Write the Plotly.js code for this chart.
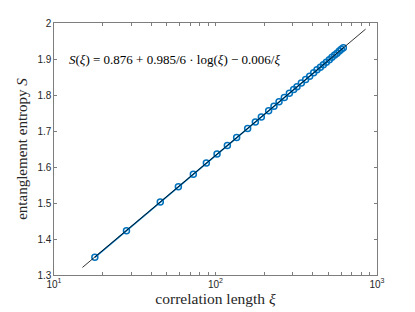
<!DOCTYPE html>
<html>
<head>
<meta charset="utf-8">
<script src="https://cdn.plot.ly/plotly-3.0.1.min.js"></script>
<style>html,body{margin:0;padding:0;background:#fff;}#chart{width:415px;height:312px;}</style>
</head>
<body>
<div id="chart"></div>
<script>
// correlation length ξ (data points)
const xi = [17.9, 28.1, 45.5, 58.9, 72.9, 87.8, 102.2, 118.4, 135.2, 158.2, 176.5, 192.2,
            213.4, 230.2, 247.4, 266.8, 286.6, 304.8, 319.6, 340.0, 361.6, 382.9, 405.3,
            425.0, 445.8, 465.3, 485.6, 506.8, 526.4, 547.0, 565.4, 584.5, 601.5, 618.8];
// entanglement entropy S (data points)
const S = [1.349, 1.423, 1.503, 1.545, 1.580, 1.611, 1.636, 1.660, 1.682, 1.707, 1.725, 1.739,
           1.756, 1.769, 1.781, 1.793, 1.805, 1.815, 1.823, 1.833, 1.843, 1.852, 1.862,
           1.870, 1.877, 1.884, 1.891, 1.898, 1.905, 1.911, 1.916, 1.922, 1.927, 1.931];
// fit line endpoints
const fitX = [15, 850];
const fitS = [1.321, 1.983];
// tick values/labels
const xTickVals = [10,20,30,40,50,60,70,80,90,100,200,300,400,500,600,700,800,900,1000];
const xTickText = xTickVals.map(v => v===10 ? '10<sup>1</sup>' : v===100 ? '10<sup>2</sup>' : v===1000 ? '10<sup>3</sup>' : '');
const yTickVals = [1.3,1.4,1.5,1.6,1.7,1.8,1.9,2];
const yTickText = ['1.3','1.4','1.5','1.6','1.7','1.8','1.9','2'];

const data = [
  {x: xi, y: S, type: 'scatter', mode: 'lines+markers',
   line: {color: '#0072BD', width: 1.5},
   marker: {symbol: 'circle-open', size: 6, color: '#0072BD', line: {width: 1.5, color: '#0072BD'}},
   hoverinfo: 'skip'},
  {x: fitX, y: fitS, type: 'scatter', mode: 'lines',
   line: {color: '#000000', width: 0.8}, hoverinfo: 'skip'}
];

const axisCommon = {
  showgrid: false, zeroline: false, showline: true, linecolor: '#262626', linewidth: 0.6,
  mirror: 'ticks', ticks: 'inside', ticklen: 3, tickcolor: '#262626', tickwidth: 0.6,
  tickfont: {family: 'Liberation Sans, Arial, sans-serif', size: 10, color: '#262626'}
};

const layout = {
  width: 415, height: 312,
  margin: {l: 54, r: 38, t: 23, b: 37},
  paper_bgcolor: '#ffffff', plot_bgcolor: '#ffffff',
  showlegend: false,
  xaxis: Object.assign({}, axisCommon, {
    type: 'log', range: [1, 3], tickmode: 'array', tickvals: xTickVals, ticktext: xTickText,
    title: {text: 'correlation length <i>ξ</i>', standoff: 0,
            font: {family: 'Liberation Serif, Times New Roman, serif', size: 15.5, color: '#262626'}}
  }),
  yaxis: Object.assign({}, axisCommon, {
    range: [1.3, 2], tickmode: 'array', tickvals: yTickVals, ticktext: yTickText,
    title: {text: 'entanglement entropy <i>S</i>', standoff: 6,
            font: {family: 'Liberation Serif, Times New Roman, serif', size: 15, color: '#262626'}}
  }),
  annotations: [{
    xref: 'paper', yref: 'paper', x: 0.04, y: 0.855, xanchor: 'left', yanchor: 'middle',
    showarrow: false,
    text: '<i>S</i>(<i>ξ</i>) = 0.876 + 0.985/6 · log(<i>ξ</i>) − 0.006/<i>ξ</i>',
    font: {family: 'Liberation Serif, Times New Roman, serif', size: 13, color: '#000000'}
  }]
};

Plotly.newPlot('chart', data, layout, {displayModeBar: false, staticPlot: true});
</script>
</body>
</html>
